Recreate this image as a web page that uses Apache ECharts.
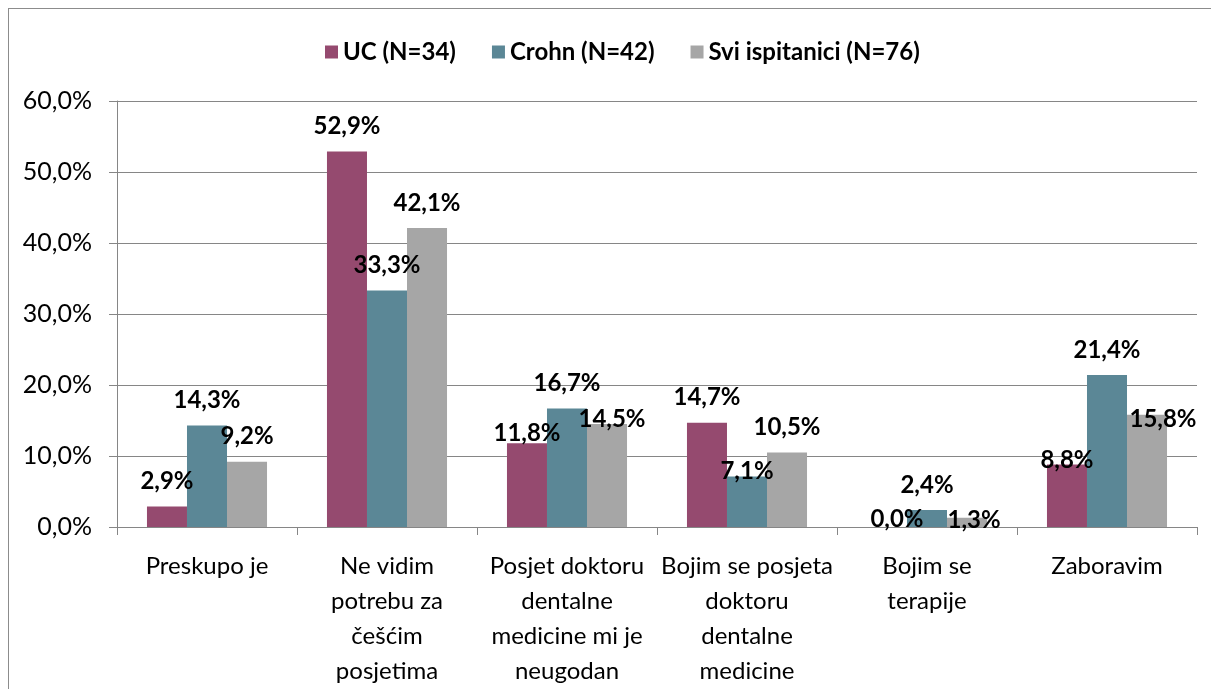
<!DOCTYPE html>
<html>
<head>
<meta charset="utf-8">
<script src="https://cdn.jsdelivr.net/npm/echarts@6/dist/echarts.min.js"></script>
<style>
  html, body { margin: 0; padding: 0; background: #fff; overflow: hidden; }
  #frame {
    position: absolute; left: 8px; top: 8px; width: 1230px; height: 700px;
    border: 1px solid #8c8c8c; box-sizing: border-box;
  }
  #chart { position: absolute; left: 0; top: 0; width: 1211px; height: 689px; }
</style>
</head>
<body>
<div id="frame"></div>
<div id="chart"></div>
<script>
// Reasons (categories), wrapped as in the original
const categories = [
  'Preskupo je',
  'Ne vidim\npotrebu za\nčešćim\nposjetima',
  'Posjet doktoru\ndentalne\nmedicine mi je\nneugodan',
  'Bojim se posjeta\ndoktoru\ndentalne\nmedicine',
  'Bojim se\nterapije',
  'Zaboravim'
];

const ucValues = [2.9, 52.9, 11.8, 14.7, 0.0, 8.8];
const crohnValues = [14.3, 33.3, 16.7, 7.1, 2.4, 21.4];
const allValues = [9.2, 42.1, 14.5, 10.5, 1.3, 15.8];

const seriesNames = ['UC (N=34)', 'Crohn (N=42)', 'Svi ispitanici (N=76)'];
const colors = ['#954A6F', '#5B8796', '#A6A6A6'];

// hand-moved data labels in the original: [series, category] -> [dx, dy]
const labelNudges = {
  '0-2': [0, 15], '0-4': [10, 17], '0-5': [0, 21],
  '1-3': [0, 20],
  '2-2': [5, 20], '2-4': [7, 27], '2-5': [16, 29]
};

const fontFamily = 'Lato, "Open Sans", sans-serif';
const pct = v => v.toFixed(1).replace('.', ',') + '%';

const chart = echarts.init(document.getElementById('chart'));

const makeSeries = (idx, data) => ({
  name: seriesNames[idx],
  type: 'bar',
  data: data.map((v, i) => {
    const nudge = labelNudges[idx + '-' + i];
    return nudge ? { value: v, label: { offset: nudge } } : v;
  }),
  barGap: '0%',
  barCategoryGap: '33.3%',
  itemStyle: { color: colors[idx] },
  label: {
    show: true,
    position: 'top',
    distance: 13,
    color: '#000',
    fontFamily,
    fontWeight: 'bold',
    fontSize: 24,
    formatter: p => pct(p.value)
  }
});

chart.setOption({
  animation: false,
  color: colors,
  legend: {
    top: 35,
    left: 320,
    itemWidth: 13,
    itemHeight: 13,
    itemGap: 36,
    icon: 'rect',
    textStyle: { fontFamily, fontWeight: 'bold', fontSize: 24, color: '#000' },
    data: seriesNames
  },
  grid: { left: 117, right: 14, top: 101, bottom: 157 },
  xAxis: {
    type: 'category',
    data: categories,
    axisLine: { lineStyle: { color: '#868686' } },
    axisTick: { show: true, length: 8, lineStyle: { color: '#868686' } },
    axisLabel: {
      interval: 0,
      margin: 22,
      color: '#000',
      fontFamily,
      fontSize: 24,
      lineHeight: 35
    }
  },
  yAxis: {
    type: 'value',
    min: 0,
    max: 60,
    interval: 10,
    axisLine: { show: true, lineStyle: { color: '#868686' } },
    axisTick: { show: true, length: 8, lineStyle: { color: '#868686' } },
    splitLine: { lineStyle: { color: '#868686' } },
    axisLabel: {
      margin: 25,
      color: '#000',
      fontFamily,
      fontSize: 25,
      formatter: v => pct(v)
    }
  },
  series: [
    makeSeries(0, ucValues),
    makeSeries(1, crohnValues),
    makeSeries(2, allValues)
  ]
});
</script>
</body>
</html>
